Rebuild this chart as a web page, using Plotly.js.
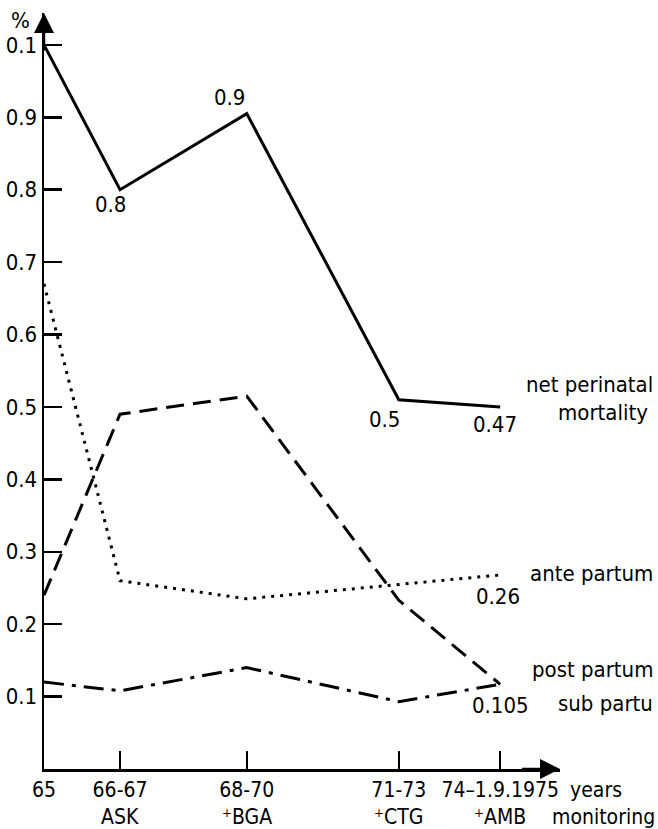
<!DOCTYPE html>
<html><head><meta charset="utf-8">
<script src="https://cdn.plot.ly/plotly-3.0.1.min.js"></script>
<style>html,body{margin:0;padding:0;background:#fff}#c{width:658px;height:829px}</style>
</head><body><div id="c"></div>
<script>
// ---- data ----
const xPos = [65, 66.5, 69, 72, 74];
const periods = ["65", "66-67", "68-70", "71-73", "74–1.9.1975"];
const monitoring = ["", "ASK", "⁺BGA", "⁺CTG", "⁺AMB"];
const netMortality = [1.0, 0.80, 0.905, 0.51, 0.50];
const antePartum = [0.67, 0.26, 0.235, 0.255, 0.268];
const postPartum = [0.24, 0.49, 0.515, 0.233, 0.117];
const subPartu = [0.12, 0.108, 0.14, 0.093, 0.117];
const yTickVals = [0.1, 0.2, 0.3, 0.4, 0.5, 0.6, 0.7, 0.8, 0.9, 1.0];
const yTickText = ["0.1", "0.2", "0.3", "0.4", "0.5", "0.6", "0.7", "0.8", "0.9", "0.1"];
// point labels: [series, index, text, xshift, yshift]
const pointLabels = [
  ["net", 1, "0.8", -10, -15],
  ["net", 2, "0.9", -17, 16],
  ["net", 3, "0.5", -14, -20],
  ["net", 4, "0.47", -5, -18],
  ["ante", 4, "0.26", -2, -22],
  ["post", 4, "0.105", 0, -21]
];

const FONT = "'DejaVu Sans Condensed', 'Liberation Sans Narrow', 'DejaVu Sans', sans-serif";
const FS = 22;
const FSX = 21;
const series = {net: netMortality, ante: antePartum, post: postPartum, sub: subPartu};

function tr(y, dash) {
  return {x: xPos, y: y, mode: "lines", type: "scatter",
    line: {color: "#000", width: 3, dash: dash}, hoverinfo: "skip"};
}
const data = [
  tr(netMortality, "solid"),
  tr(antePartum, "3px,6px"),
  tr(postPartum, "18px,9px"),
  tr(subPartu, "20px,8px,4px,8px")
];

function txt(o, fs) {
  return Object.assign({showarrow: false, xanchor: "center", yanchor: "middle", font: {size: fs || FS}}, o);
}
const ann = [];
pointLabels.forEach(p => {
  ann.push(txt({x: xPos[p[1]], y: series[p[0]][p[1]], xref: "x", yref: "y", text: p[2],
    xshift: p[3], yshift: p[4]}));
});
// second line of x labels
monitoring.forEach((m, i) => {
  if (m) ann.push(txt({x: xPos[i], y: -0.0635, xref: "x", yref: "paper", text: m}, FSX));
});
const side = [
  ["net perinatal", 1.184, 0.508], ["mortality", 1.174, 0.472],
  ["ante partum", 1.184, 0.259], ["post partum", 1.184, 0.131], ["sub partu", 1.184, 0.087]
];
side.forEach(s => ann.push(txt({x: s[1], y: s[2], xref: "paper", yref: "paper", xanchor: "right", text: s[0]})));
ann.push(txt({x: 1.0155, y: -0.028, xref: "paper", yref: "paper", xanchor: "left", text: "years"}, FSX));
ann.push(txt({x: 1.188, y: -0.0635, xref: "paper", yref: "paper", xanchor: "right", text: "monitoring"}, FSX));
ann.push(txt({x: -0.046, y: 0.990, xref: "paper", yref: "paper", text: "%"}));
// axis arrowheads
ann.push({x: 65, y: 1.044, ax: 65, ay: 0.99, xref: "x", yref: "y", axref: "x", ayref: "y",
  showarrow: true, arrowhead: 2, arrowsize: 1.6, arrowwidth: 2.5, arrowcolor: "#000", text: ""});
ann.push({x: 75.18, y: 0, ax: 74.4, ay: 0, xref: "x", yref: "y", axref: "x", ayref: "y",
  showarrow: true, arrowhead: 2, arrowsize: 1.6, arrowwidth: 2.5, arrowcolor: "#000", text: ""});

const layout = {
  width: 658, height: 829,
  margin: {l: 44, r: 98, t: 13, b: 60, pad: 0},
  paper_bgcolor: "#fff", plot_bgcolor: "#fff",
  showlegend: false,
  font: {family: FONT, color: "#000", size: FS},
  xaxis: {range: [65, 75.18], tickvals: xPos, ticktext: periods, ticks: "inside", ticklen: 18,
    tickwidth: 2.5, tickcolor: "#000", showgrid: false, zeroline: false, showline: true,
    linecolor: "#000", linewidth: 2.5, tickfont: {size: FSX}, fixedrange: true},
  yaxis: {range: [0, 1.044], tickvals: yTickVals, ticktext: yTickText, ticks: "inside", ticklen: 18,
    tickwidth: 2.5, tickcolor: "#000", showgrid: false, zeroline: false, showline: true,
    linecolor: "#000", linewidth: 2.5, tickfont: {size: FS}, fixedrange: true},
  annotations: ann
};
Plotly.newPlot("c", data, layout, {staticPlot: true});
</script></body></html>
